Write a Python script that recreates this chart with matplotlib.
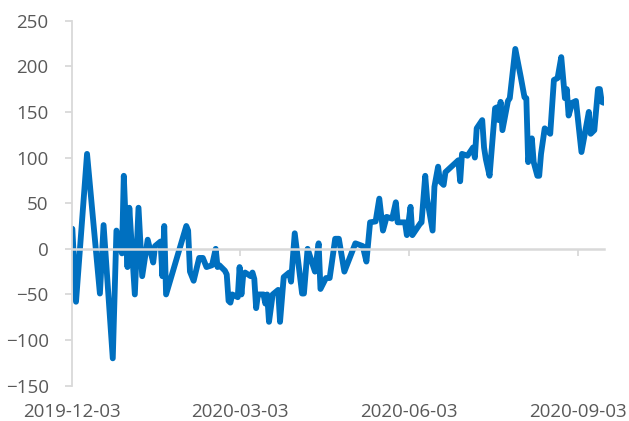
import matplotlib
matplotlib.use("Agg")
import matplotlib.pyplot as plt
import matplotlib.dates as mdates
import pandas as pd

# turning points of the series
dates = [
    "2019-12-03", "2019-12-05", "2019-12-11", "2019-12-16", "2019-12-18", "2019-12-20",
    "2019-12-25", "2019-12-27", "2019-12-30", "2019-12-31", "2020-01-02", "2020-01-03",
    "2020-01-06", "2020-01-08", "2020-01-10", "2020-01-13", "2020-01-16", "2020-01-17",
    "2020-01-20", "2020-01-21", "2020-01-22", "2020-01-23", "2020-02-03", "2020-02-04",
    "2020-02-05", "2020-02-07", "2020-02-10", "2020-02-12", "2020-02-14", "2020-02-17",
    "2020-02-19", "2020-02-20", "2020-02-21", "2020-02-24", "2020-02-25", "2020-02-26",
    "2020-02-27", "2020-02-28", "2020-03-02", "2020-03-03", "2020-03-04", "2020-03-05",
    "2020-03-06", "2020-03-09", "2020-03-10", "2020-03-11", "2020-03-12", "2020-03-13",
    "2020-03-16", "2020-03-17", "2020-03-18", "2020-03-19", "2020-03-21", "2020-03-24",
    "2020-03-25", "2020-03-27", "2020-03-30", "2020-03-31", "2020-04-02", "2020-04-06",
    "2020-04-07", "2020-04-09", "2020-04-13", "2020-04-15", "2020-04-16", "2020-04-19",
    "2020-04-21", "2020-04-22", "2020-04-24", "2020-04-26", "2020-04-29", "2020-05-05",
    "2020-05-09", "2020-05-11", "2020-05-13", "2020-05-16", "2020-05-18", "2020-05-20",
    "2020-05-22", "2020-05-25", "2020-05-27", "2020-05-28", "2020-06-01", "2020-06-02",
    "2020-06-04", "2020-06-05", "2020-06-09", "2020-06-10", "2020-06-12", "2020-06-13",
    "2020-06-16", "2020-06-17", "2020-06-19", "2020-06-20", "2020-06-22", "2020-06-23",
    "2020-06-30", "2020-07-01", "2020-07-02", "2020-07-05", "2020-07-06", "2020-07-08",
    "2020-07-09", "2020-07-10", "2020-07-13", "2020-07-14", "2020-07-15", "2020-07-17",
    "2020-07-20", "2020-07-21", "2020-07-22", "2020-07-23", "2020-07-24", "2020-07-27",
    "2020-07-28", "2020-07-31", "2020-08-03", "2020-08-05", "2020-08-06", "2020-08-07",
    "2020-08-09", "2020-08-10", "2020-08-12", "2020-08-13", "2020-08-14", "2020-08-16",
    "2020-08-19", "2020-08-21", "2020-08-23", "2020-08-25", "2020-08-27", "2020-08-28",
    "2020-08-29", "2020-08-31", "2020-09-02", "2020-09-05", "2020-09-09", "2020-09-10",
    "2020-09-12", "2020-09-14", "2020-09-15", "2020-09-16", "2020-09-17",
]
values = [
    22, -58, 104, -5, -49, 26,
    -120, 20, -5, 80, -20, 45,
    -50, 45, -30, 10, -15, 3,
    8, -30, 25, -50, 25, 20,
    -25, -35, -10, -10, -20, -18,
    0, -20, -18, -24, -28, -57,
    -59, -50, -53, -20, -50, -28,
    -26, -30, -26, -33, -65, -50,
    -50, -60, -50, -80, -50, -45,
    -80, -31, -26, -36, 17, -49,
    -49, 0, -25, 6, -44, -32,
    -32, -18, 11, 11, -25, 6,
    3, -14, 29, 30, 55, 20,
    35, 33, 51, 29, 29, 15,
    46, 15, 27, 29, 80, 55,
    20, 68, 90, 74, 70, 84,
    97, 74, 104, 102, 105, 111,
    100, 132, 141, 111, 98, 80,
    154, 155, 141, 161, 130, 162,
    165, 219, 188, 166, 165, 95,
    121, 95, 80, 80, 104, 132,
    126, 185, 187, 210, 165, 175,
    146, 160, 162, 106, 150, 126,
    130, 175, 175, 161, 160,
]
tick_dates = ["2019-12-03", "2020-03-03", "2020-06-03", "2020-09-03"]
y_ticks = [-150, -100, -50, 0, 50, 100, 150, 200, 250]

x = pd.to_datetime(dates)
xt = pd.to_datetime(tick_dates)

blue = "#0070C0"
axis_gray = "#D9D9D9"
text_gray = "#595959"

plt.rcParams["font.family"] = ["Open Sans", "DejaVu Sans"]

fig = plt.figure(figsize=(6.29, 4.21), dpi=100)
ax = fig.add_axes([0.115, 0.0838, 0.8445, 0.8672])

ax.plot(x, values, color=blue, lw=4.2, solid_joinstyle="round", solid_capstyle="round")

ax.set_xlim(x[0], x[-1])
ax.set_ylim(-150, 250)
ax.set_yticks(y_ticks)
ax.set_xticks(xt)
ax.xaxis.set_major_formatter(mdates.DateFormatter("%Y-%m-%d"))

for s in ["top", "right"]:
    ax.spines[s].set_visible(False)
ax.spines["left"].set_color(axis_gray)
ax.spines["left"].set_linewidth(1.3)
ax.spines["bottom"].set_position(("data", 0))
ax.spines["bottom"].set_color(axis_gray)
ax.spines["bottom"].set_linewidth(1.8)

ax.tick_params(axis="y", colors=axis_gray, labelcolor=text_gray, length=5, width=1.3,
               labelsize=13.5, pad=12)
# date labels sit at the bottom of the chart, not under the zero line
ax.tick_params(axis="x", colors=axis_gray, labelcolor=text_gray, length=5, width=1.3,
               labelsize=13.5, pad=106)

fig.savefig("out.png", dpi=100)
